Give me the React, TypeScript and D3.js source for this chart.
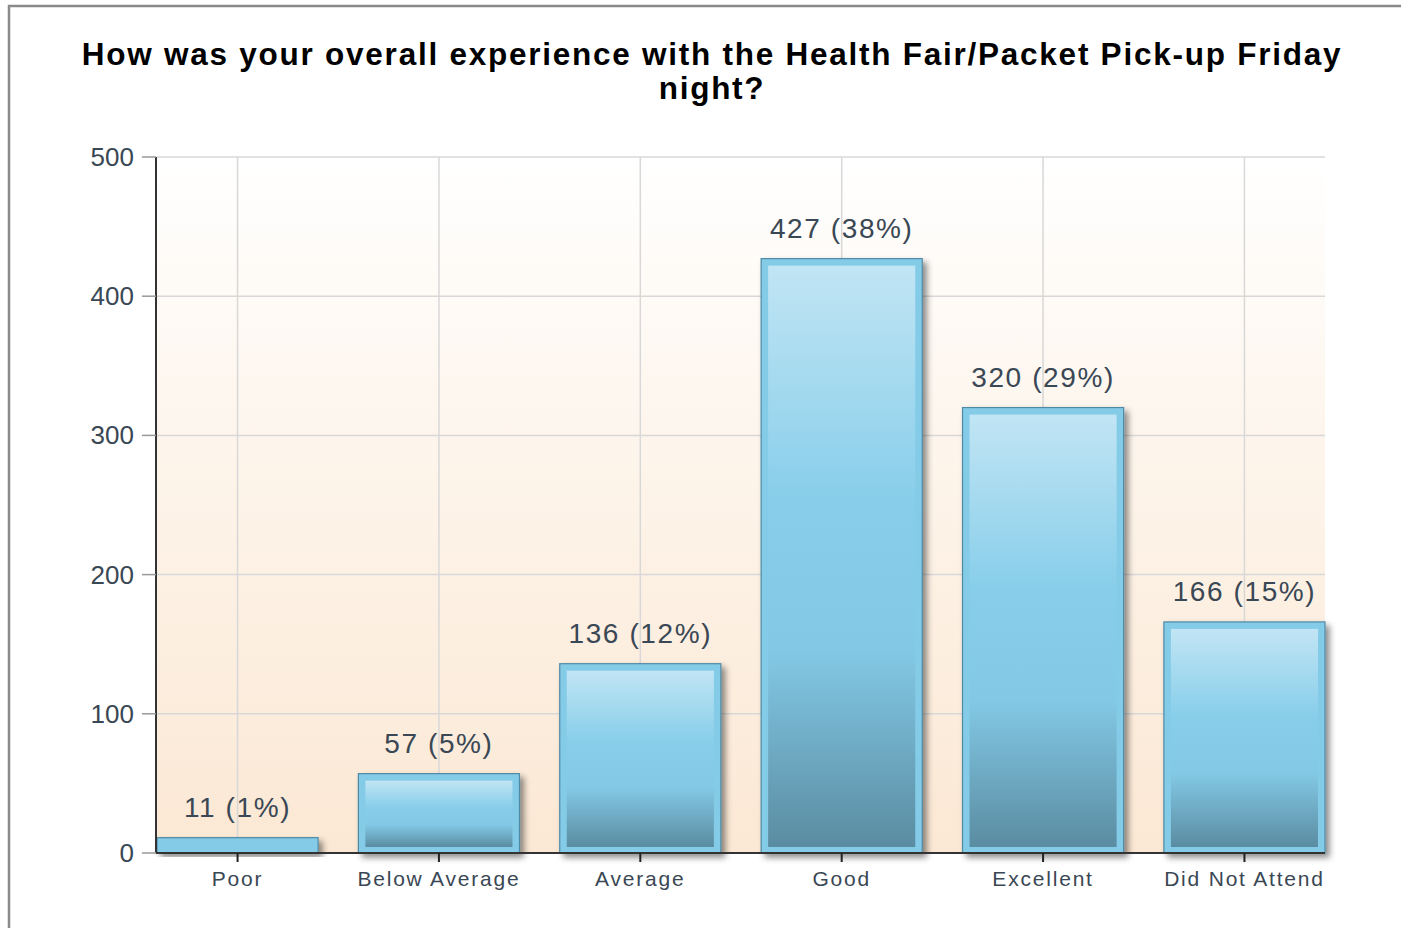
import React from "react";
import * as d3 from "d3";

const categories = ["Poor", "Below Average", "Average", "Good", "Excellent", "Did Not Attend"];
const counts = [11, 57, 136, 427, 320, 166];
const percents = ["1%", "5%", "12%", "38%", "29%", "15%"];
const yTicks = [0, 100, 200, 300, 400, 500];
const titleLines = [
  "How was your overall experience with the Health Fair/Packet Pick-up Friday",
  "night?",
];

const W = 1401;
const H = 928;
const plot = { left: 157, right: 1325, top: 157, bottom: 853 };
const FONT = "'Liberation Sans', Arial, sans-serif";
const TEXT = "#3a4754";

export default function App() {
  const x = d3
    .scaleBand<string>()
    .domain(categories)
    .range([plot.left, plot.right])
    .paddingInner(0.2)
    .paddingOuter(0);
  const y = d3.scaleLinear().domain([0, 500]).range([plot.bottom, plot.top]);
  const bw = x.bandwidth();
  const inset = 7;

  return (
    <svg
      width={W}
      height={H}
      style={{ position: "absolute", left: 0, top: 0, display: "block" }}
      fontFamily={FONT}
    >
      <defs>
        <linearGradient id="bg" x1="0" y1="0" x2="0" y2="1">
          <stop offset="0" stopColor="#ffffff" />
          <stop offset="0.5" stopColor="#fdf3e8" />
          <stop offset="1" stopColor="#fbe8d4" />
        </linearGradient>
        <linearGradient id="barIn" x1="0" y1="0" x2="0" y2="1">
          <stop offset="0" stopColor="#c1e5f4" />
          <stop offset="0.4" stopColor="#88ceea" />
          <stop offset="0.66" stopColor="#83c9e6" />
          <stop offset="1" stopColor="#5a8ca1" />
        </linearGradient>
        <filter id="shadow" x="-10%" y="-10%" width="130%" height="130%">
          <feDropShadow dx="4" dy="4" stdDeviation="3" floodColor="#000" floodOpacity="0.45" />
        </filter>
      </defs>
      <rect x={0} y={0} width={W} height={H} fill="#ffffff" />
      {/* outer frame */}
      <rect x={9} y={6} width={W + 20} height={H + 20} fill="none" stroke="#8a8a8a" strokeWidth={2.5} />

      {/* title */}
      {titleLines.map((t, i) => (
        <text
          key={i}
          x={712}
          y={65 + i * 34}
          textAnchor="middle"
          fontSize={31.5}
          fontWeight="bold"
          letterSpacing={1.75}
          fill="#000"
        >
          {t}
        </text>
      ))}

      {/* plot background */}
      <rect
        x={plot.left}
        y={plot.top}
        width={plot.right - plot.left}
        height={plot.bottom - plot.top}
        fill="url(#bg)"
      />

      {/* horizontal grid */}
      {yTicks.map((t) => (
        <line
          key={"h" + t}
          x1={plot.left}
          x2={plot.right}
          y1={y(t)}
          y2={y(t)}
          stroke="#d8d8d8"
          strokeWidth={1.5}
        />
      ))}
      {/* vertical grid */}
      {categories.map((c) => {
        const cx = (x(c) as number) + bw / 2;
        return (
          <line
            key={"v" + c}
            x1={cx}
            x2={cx}
            y1={plot.top}
            y2={plot.bottom}
            stroke="#d8d8d8"
            strokeWidth={1.5}
          />
        );
      })}

      {/* bars */}
      {categories.map((c, i) => {
        const x0 = x(c) as number;
        const yt = y(counts[i]);
        const h = plot.bottom - yt;
        return (
          <g key={"b" + c}>
            <rect
              x={x0}
              y={yt}
              width={bw}
              height={h}
              fill="#84cbe8"
              stroke="#4f8aa5"
              strokeWidth={1.2}
              filter="url(#shadow)"
            />
            {h > inset * 2 + 4 && (
              <rect
                x={x0 + inset}
                y={yt + inset}
                width={bw - inset * 2}
                height={h - inset - 6}
                fill="url(#barIn)"
              />
            )}
          </g>
        );
      })}

      {/* value labels */}
      {categories.map((c, i) => (
        <text
          key={"l" + c}
          x={(x(c) as number) + bw / 2}
          y={y(counts[i]) - 21}
          textAnchor="middle"
          fontSize={28}
          letterSpacing={1.6}
          fill={TEXT}
        >
          {`${counts[i]} (${percents[i]})`}
        </text>
      ))}

      {/* y axis */}
      <line x1={plot.left - 1} x2={plot.left - 1} y1={plot.top} y2={plot.bottom} stroke="#333" strokeWidth={2} />
      {yTicks.map((t) => (
        <g key={"yt" + t}>
          <line x1={142} x2={plot.left - 1} y1={y(t)} y2={y(t)} stroke="#999" strokeWidth={1.5} />
          <text x={134} y={y(t) + 9} textAnchor="end" fontSize={26} fill={TEXT}>
            {t}
          </text>
        </g>
      ))}

      {/* x axis */}
      <line x1={plot.left - 1} x2={plot.right} y1={plot.bottom} y2={plot.bottom} stroke="#333" strokeWidth={2} />
      {categories.map((c) => {
        const cx = (x(c) as number) + bw / 2;
        return (
          <g key={"xt" + c}>
            <line x1={cx} x2={cx} y1={plot.bottom} y2={plot.bottom + 9} stroke="#222" strokeWidth={2} />
            <text x={cx} y={plot.bottom + 33} textAnchor="middle" fontSize={21} letterSpacing={1.8} fill={TEXT}>
              {c}
            </text>
          </g>
        );
      })}
    </svg>
  );
}
